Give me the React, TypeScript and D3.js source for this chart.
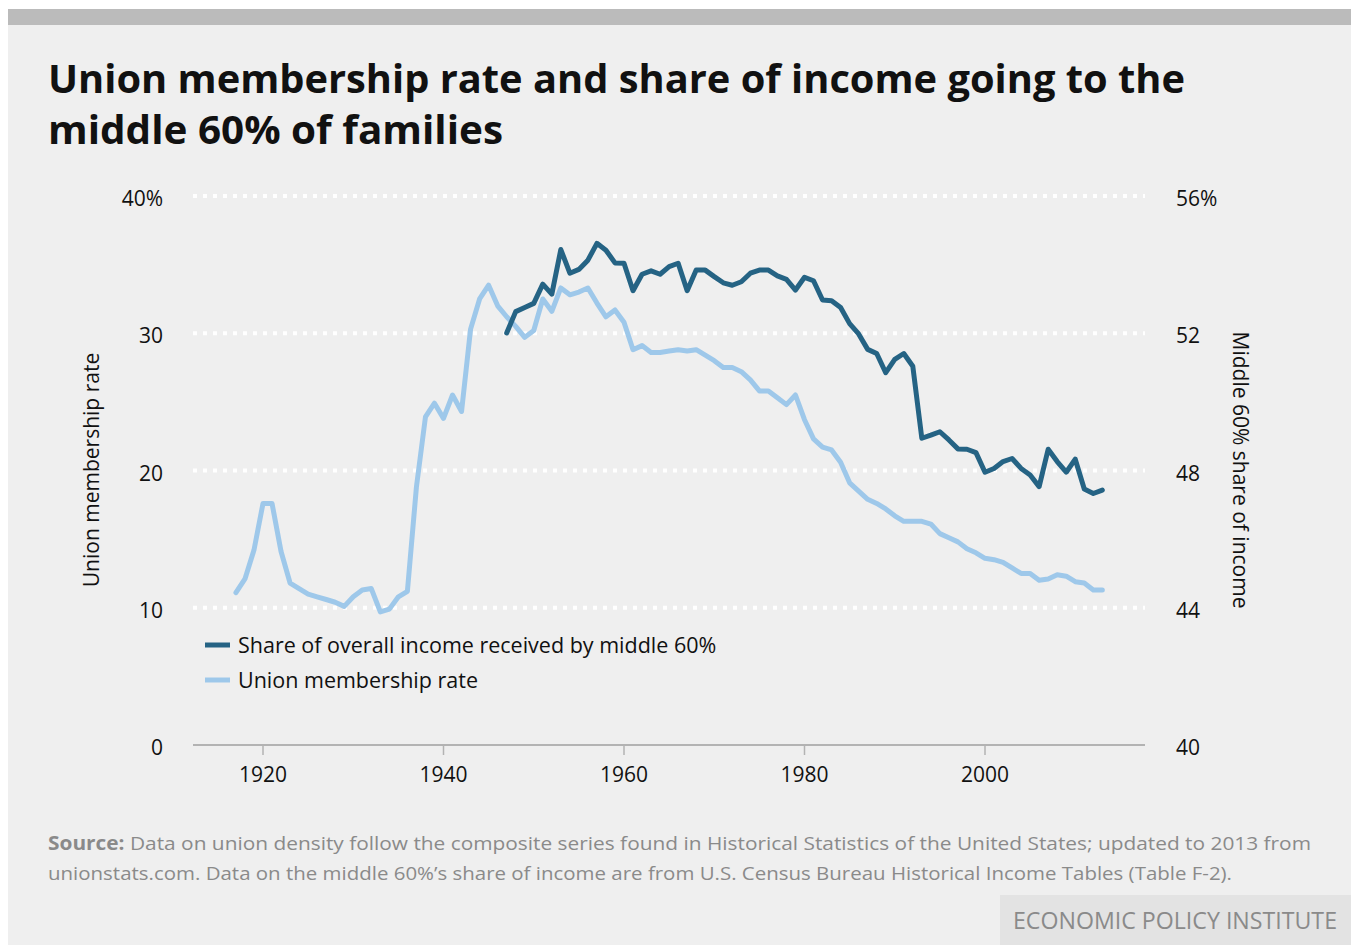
import React, { useEffect, useRef } from 'react';
import * as d3 from 'd3';

// union membership rate, percent (1917-2013)
const unionYears = d3.range(1917, 2014);
const unionRate = [
  11.1, 12.1, 14.2, 17.6, 17.6, 14.1, 11.8, 11.4, 11.0, 10.8,
  10.6, 10.4, 10.1, 10.8, 11.3, 11.4, 9.7, 9.9, 10.8, 11.2,
  18.8, 23.9, 24.9, 23.8, 25.5, 24.3, 30.3, 32.5, 33.5, 32.0,
  31.2, 30.5, 29.7, 30.2, 32.5, 31.6, 33.3, 32.8, 33.0, 33.3,
  32.2, 31.2, 31.7, 30.8, 28.8, 29.1, 28.6, 28.6, 28.7, 28.8,
  28.7, 28.8, 28.4, 28.0, 27.5, 27.5, 27.2, 26.6, 25.8, 25.8,
  25.3, 24.8, 25.5, 23.7, 22.3, 21.7, 21.5, 20.6, 19.1, 18.5,
  17.9, 17.6, 17.2, 16.7, 16.3, 16.3, 16.3, 16.1, 15.4, 15.1,
  14.8, 14.3, 14.0, 13.6, 13.5, 13.3, 12.9, 12.5, 12.5, 12.0,
  12.1, 12.4, 12.3, 11.9, 11.8, 11.3, 11.3,
];

// middle 60% share of income, percent (1947-2013)
const shareYears = d3.range(1947, 2014);
const middleShare = [
  52.01, 52.63, 52.75, 52.87, 53.43, 53.14, 54.44, 53.75, 53.86, 54.13,
  54.62, 54.42, 54.05, 54.04, 53.24, 53.72, 53.82, 53.72, 53.94, 54.04,
  53.24, 53.84, 53.84, 53.65, 53.47, 53.40, 53.50, 53.75, 53.84, 53.84,
  53.67, 53.57, 53.26, 53.63, 53.53, 52.97, 52.95, 52.75, 52.28, 51.98,
  51.53, 51.41, 50.85, 51.24, 51.41, 51.04, 48.94, 49.03, 49.13, 48.89,
  48.63, 48.62, 48.52, 47.95, 48.06, 48.26, 48.35, 48.06, 47.87, 47.53,
  48.62, 48.26, 47.95, 48.33, 47.46, 47.33, 47.43,
];

const xTicks = [1920, 1940, 1960, 1980, 2000];
const leftTicks = [0, 10, 20, 30, 40];
const rightTicks = [40, 44, 48, 52, 56];

const DARK = '#256384';
const LIGHT = '#9ec8ea';
const FONT = "'Open Sans', 'Noto Sans', sans-serif";

export default function App() {
  const ref = useRef<SVGSVGElement>(null);

  useEffect(() => {
    if (!ref.current) return;
    const svg = d3.select(ref.current);
    svg.selectAll('*').remove();

    const W = 1353, H = 945;
    svg.append('rect').attr('width', W).attr('height', H).attr('fill', '#ffffff');
    svg.append('rect').attr('x', 8).attr('y', 9).attr('width', 1343).attr('height', H - 9).attr('fill', '#efefef');
    svg.append('rect').attr('x', 8).attr('y', 9).attr('width', 1343).attr('height', 16).attr('fill', '#bbbbbb');

    // title
    const title = svg.append('text')
      .attr('font-family', FONT)
      .attr('font-weight', 700)
      .attr('font-size', 40)
      .attr('fill', '#111');
    title.append('tspan').attr('x', 48).attr('y', 93)
      .attr('textLength', 1137).attr('lengthAdjust', 'spacingAndGlyphs')
      .text('Union membership rate and share of income going to the');
    title.append('tspan').attr('x', 48).attr('y', 144)
      .attr('textLength', 455).attr('lengthAdjust', 'spacingAndGlyphs')
      .text('middle 60% of families');

    const x = d3.scaleLinear().domain([1920, 2000]).range([263, 985]);
    const yL = d3.scaleLinear().domain([0, 40]).range([745, 196]);
    const yR = d3.scaleLinear().domain([40, 56]).range([745, 196]);
    const gx0 = 193, gx1 = 1145;

    // dotted grid lines
    svg.selectAll('.grid')
      .data(leftTicks.filter(d => d > 0))
      .enter()
      .append('line')
      .attr('x1', gx0).attr('x2', gx1)
      .attr('y1', d => yL(d)).attr('y2', d => yL(d))
      .attr('stroke', '#ffffff')
      .attr('stroke-width', 4)
      .attr('stroke-dasharray', '4,6');

    // baseline + ticks
    svg.append('line')
      .attr('x1', gx0).attr('x2', gx1)
      .attr('y1', yL(0)).attr('y2', yL(0))
      .attr('stroke', '#b3b3b3').attr('stroke-width', 2);
    svg.selectAll('.xtick')
      .data(xTicks)
      .enter()
      .append('line')
      .attr('x1', d => x(d)).attr('x2', d => x(d))
      .attr('y1', yL(0)).attr('y2', yL(0) + 10)
      .attr('stroke', '#b3b3b3').attr('stroke-width', 1.5);
    svg.selectAll('.xlabel')
      .data(xTicks)
      .enter()
      .append('text')
      .attr('x', d => x(d)).attr('y', 782)
      .attr('text-anchor', 'middle')
      .attr('font-family', FONT).attr('font-size', 21).attr('fill', '#111')
      .text(d => d);

    // left axis labels
    svg.selectAll('.ylabel')
      .data(leftTicks)
      .enter()
      .append('text')
      .attr('x', 163).attr('y', d => yL(d) + 10)
      .attr('text-anchor', 'end')
      .attr('font-family', FONT).attr('font-size', 21).attr('fill', '#111')
      .text(d => (d === 40 ? '40%' : d));

    // right axis labels
    svg.selectAll('.rlabel')
      .data(rightTicks)
      .enter()
      .append('text')
      .attr('x', 1176).attr('y', d => yR(d) + 10)
      .attr('font-family', FONT).attr('font-size', 21).attr('fill', '#111')
      .text(d => (d === 56 ? '56%' : d));

    svg.append('text')
      .attr('transform', 'translate(99,470) rotate(-90)')
      .attr('text-anchor', 'middle')
      .attr('font-family', FONT).attr('font-size', 21).attr('fill', '#111')
      .text('Union membership rate');
    svg.append('text')
      .attr('transform', 'translate(1233,470) rotate(90)')
      .attr('text-anchor', 'middle')
      .attr('font-family', FONT).attr('font-size', 21).attr('fill', '#111')
      .text('Middle 60% share of income');

    // lines
    const unionData = unionYears.map((yr, i) => ({ yr, v: unionRate[i] }));
    const shareData = shareYears.map((yr, i) => ({ yr, v: middleShare[i] }));

    svg.append('path')
      .datum(unionData)
      .attr('fill', 'none')
      .attr('stroke', LIGHT)
      .attr('stroke-width', 5)
      .attr('stroke-linejoin', 'round')
      .attr('stroke-linecap', 'round')
      .attr('d', d3.line<{ yr: number; v: number }>().x(d => x(d.yr)).y(d => yL(d.v)));

    svg.append('path')
      .datum(shareData)
      .attr('fill', 'none')
      .attr('stroke', DARK)
      .attr('stroke-width', 5)
      .attr('stroke-linejoin', 'round')
      .attr('stroke-linecap', 'round')
      .attr('d', d3.line<{ yr: number; v: number }>().x(d => x(d.yr)).y(d => yR(d.v)));

    // legend
    const legend = [
      { label: 'Share of overall income received by middle 60%', color: DARK },
      { label: 'Union membership rate', color: LIGHT },
    ];
    const lg = svg.append('g').attr('transform', 'translate(205,645)');
    legend.forEach((l, i) => {
      lg.append('line')
        .attr('x1', 0).attr('x2', 25)
        .attr('y1', i * 35).attr('y2', i * 35)
        .attr('stroke', l.color).attr('stroke-width', 5);
      lg.append('text')
        .attr('x', 33).attr('y', i * 35 + 8)
        .attr('font-family', FONT).attr('font-size', 21.5).attr('fill', '#111')
        .text(l.label);
    });

    // source
    const src = svg.append('text')
      .attr('font-family', FONT).attr('font-size', 19).attr('fill', '#8a8a8a');
    const l1 = src.append('tspan').attr('x', 48).attr('y', 850)
      .attr('textLength', 1263).attr('lengthAdjust', 'spacingAndGlyphs');
    l1.append('tspan').attr('font-weight', 700).text('Source:');
    l1.append('tspan').text(' Data on union density follow the composite series found in Historical Statistics of the United States; updated to 2013 from');
    src.append('tspan').attr('x', 48).attr('y', 880)
      .attr('textLength', 1184).attr('lengthAdjust', 'spacingAndGlyphs')
      .text('unionstats.com. Data on the middle 60%\u2019s share of income are from U.S. Census Bureau Historical Income Tables (Table F-2).');

    // EPI box
    svg.append('rect').attr('x', 1000).attr('y', 895).attr('width', 351).attr('height', 50).attr('fill', '#e3e3e3');
    svg.append('text')
      .attr('x', 1013).attr('y', 929)
      .attr('textLength', 324).attr('lengthAdjust', 'spacingAndGlyphs')
      .attr('font-family', FONT).attr('font-size', 24).attr('fill', '#8a8a8a')
      .text('ECONOMIC POLICY INSTITUTE');
  }, []);

  return (
    <svg
      ref={ref}
      width={1353}
      height={945}
      style={{ position: 'absolute', left: 0, top: 0, display: 'block' }}
    />
  );
}
